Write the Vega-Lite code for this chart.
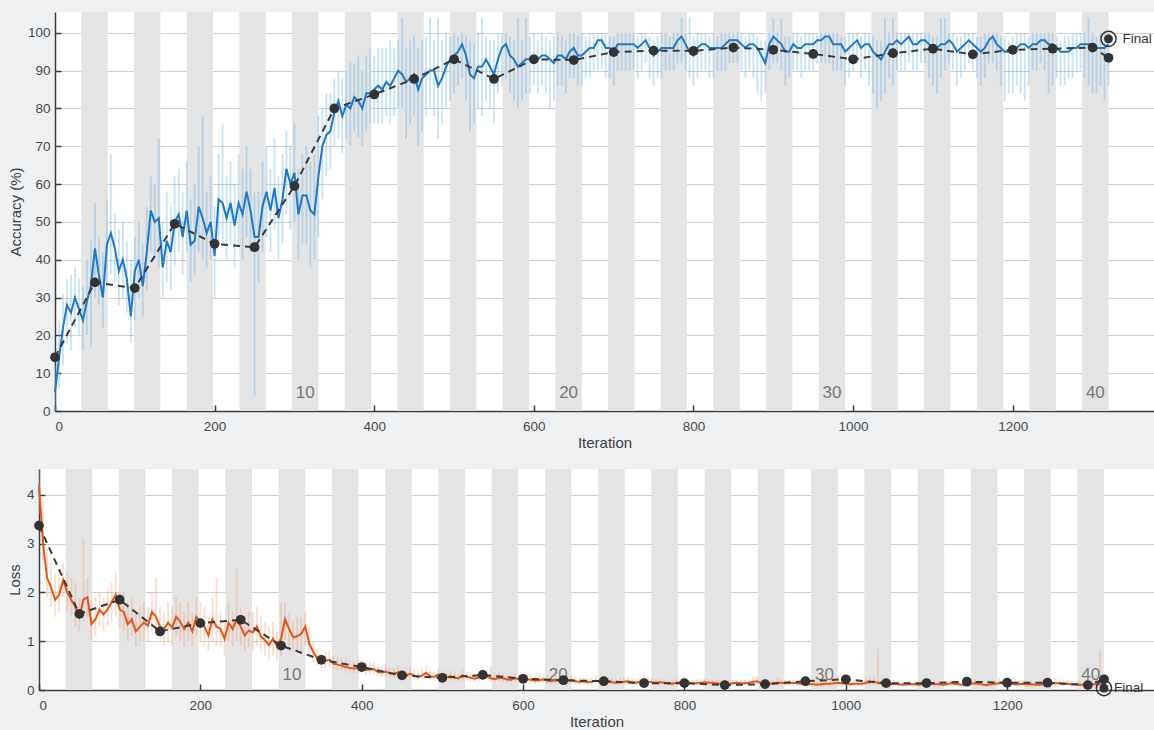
{
"$schema": "https://vega.github.io/schema/vega-lite/v6.json",
"background": "#eef0f2",
"padding": {"left": 7, "top": 12, "right": 0, "bottom": 0},
"config": {
 "view": {"stroke": null, "fill": "#ffffff"},
 "font": "Liberation Sans",
 "axis": {"domainColor": "#3c3c3c", "domainWidth": 1.5, "tickColor": "#3c3c3c", "tickWidth": 1.5, "tickSize": -6, "labelColor": "#4a4a4a", "labelFontSize": 13.5, "titleColor": "#404040", "titleFontSize": 15, "titleFontWeight": "normal", "gridColor": "#d0d0d0", "gridWidth": 1},
 "axisX": {"grid": false, "labelPadding": 14, "titlePadding": 3},
 "axisY": {"grid": true, "zindex": 1, "labelPadding": 11, "titlePadding": 4}
},
"datasets": {
 "bands": [{"s":33,"t":66},{"s":99,"t":132},{"s":165,"t":198},{"s":231,"t":264},{"s":297,"t":330},{"s":363,"t":396},{"s":429,"t":462},{"s":495,"t":528},{"s":561,"t":594},{"s":627,"t":660},{"s":693,"t":726},{"s":759,"t":792},{"s":825,"t":858},{"s":891,"t":924},{"s":957,"t":990},{"s":1023,"t":1056},{"s":1089,"t":1122},{"s":1155,"t":1188},{"s":1221,"t":1254},{"s":1287,"t":1320}],
 "ep": [{"m":313.5,"t":"10"},{"m":643.5,"t":"20"},{"m":973.5,"t":"30"},{"m":1303.5,"t":"40"}],
 "fin": [{"i":1320,"a":98.4,"l":0.04,"t":"Final"}],
 "val": [{"i":0,"a":14.2,"l":3.37},{"i":50,"a":34,"l":1.56},{"i":100,"a":32.5,"l":1.85},{"i":150,"a":49.5,"l":1.2},{"i":200,"a":44.2,"l":1.37},{"i":250,"a":43.3,"l":1.44},{"i":300,"a":59.5,"l":0.91},{"i":350,"a":80,"l":0.62},{"i":400,"a":83.7,"l":0.47},{"i":450,"a":87.8,"l":0.3},{"i":500,"a":93,"l":0.25},{"i":550,"a":87.8,"l":0.31},{"i":600,"a":93,"l":0.23},{"i":650,"a":92.8,"l":0.2},{"i":700,"a":94.9,"l":0.18},{"i":750,"a":95.3,"l":0.14},{"i":800,"a":95.2,"l":0.14},{"i":850,"a":96.1,"l":0.1},{"i":900,"a":95.5,"l":0.12},{"i":950,"a":94.4,"l":0.18},{"i":1000,"a":93,"l":0.22},{"i":1050,"a":94.6,"l":0.14},{"i":1100,"a":95.8,"l":0.14},{"i":1150,"a":94.3,"l":0.17},{"i":1200,"a":95.5,"l":0.15},{"i":1250,"a":95.8,"l":0.15},{"i":1300,"a":96.1,"l":0.1},{"i":1320,"a":93.4,"l":0.22}],
 "train": [
{"i":0,"a":5,"lo":0,"hi":12,"l":4.2,"llo":3.6,"lhi":4.5},
{"i":5,"a":14,"lo":6,"hi":24,"l":3.0,"llo":2.6,"lhi":3.9},
{"i":10,"a":22,"lo":12,"hi":31,"l":2.3,"llo":1.9,"lhi":2.9},
{"i":15,"a":28,"lo":18,"hi":35,"l":2.1,"llo":1.7,"lhi":2.6},
{"i":20,"a":26,"lo":16,"hi":36,"l":1.85,"llo":1.5,"lhi":2.4},
{"i":25,"a":30,"lo":22,"hi":38,"l":1.95,"llo":1.6,"lhi":2.3},
{"i":30,"a":27,"lo":20,"hi":35,"l":2.25,"llo":1.9,"lhi":2.6},
{"i":35,"a":24,"lo":16,"hi":33,"l":2.0,"llo":1.6,"lhi":2.4},
{"i":40,"a":29,"lo":20,"hi":40,"l":1.85,"llo":1.5,"lhi":2.3},
{"i":45,"a":33,"lo":17,"hi":45,"l":1.7,"llo":1.3,"lhi":2.2},
{"i":50,"a":43,"lo":30,"hi":55,"l":1.5,"llo":1.2,"lhi":1.9},
{"i":55,"a":36,"lo":28,"hi":46,"l":1.85,"llo":1.4,"lhi":3.1},
{"i":60,"a":30,"lo":22,"hi":42,"l":1.9,"llo":1.5,"lhi":2.3},
{"i":65,"a":44,"lo":34,"hi":56,"l":1.35,"llo":1.0,"lhi":1.8},
{"i":70,"a":47,"lo":36,"hi":68,"l":1.45,"llo":1.1,"lhi":1.9},
{"i":75,"a":43,"lo":34,"hi":52,"l":1.65,"llo":1.3,"lhi":2.0},
{"i":80,"a":37,"lo":28,"hi":48,"l":1.55,"llo":1.2,"lhi":1.9},
{"i":85,"a":40,"lo":30,"hi":50,"l":1.65,"llo":1.3,"lhi":2.1},
{"i":90,"a":35,"lo":26,"hi":45,"l":1.8,"llo":1.4,"lhi":2.2},
{"i":95,"a":25,"lo":18,"hi":40,"l":1.95,"llo":1.5,"lhi":2.4},
{"i":100,"a":37,"lo":24,"hi":46,"l":1.65,"llo":1.3,"lhi":2.0},
{"i":105,"a":40,"lo":30,"hi":50,"l":1.6,"llo":1.2,"lhi":2.0},
{"i":110,"a":33,"lo":25,"hi":44,"l":1.35,"llo":1.0,"lhi":1.8},
{"i":115,"a":42,"lo":32,"hi":54,"l":1.45,"llo":1.1,"lhi":1.9},
{"i":120,"a":53,"lo":42,"hi":62,"l":1.2,"llo":0.9,"lhi":1.6},
{"i":125,"a":50,"lo":40,"hi":60,"l":1.3,"llo":1.0,"lhi":1.7},
{"i":130,"a":51,"lo":38,"hi":72,"l":1.38,"llo":1.0,"lhi":1.8},
{"i":135,"a":38,"lo":30,"hi":50,"l":1.32,"llo":1.0,"lhi":1.7},
{"i":140,"a":45,"lo":34,"hi":58,"l":1.6,"llo":1.2,"lhi":2.0},
{"i":145,"a":42,"lo":32,"hi":54,"l":1.5,"llo":1.1,"lhi":2.3},
{"i":150,"a":50,"lo":38,"hi":62,"l":1.3,"llo":1.0,"lhi":1.7},
{"i":155,"a":52,"lo":42,"hi":64,"l":1.25,"llo":0.9,"lhi":1.6},
{"i":160,"a":46,"lo":36,"hi":58,"l":1.38,"llo":1.0,"lhi":1.8},
{"i":165,"a":53,"lo":42,"hi":66,"l":1.28,"llo":0.9,"lhi":1.7},
{"i":170,"a":44,"lo":34,"hi":56,"l":1.5,"llo":1.1,"lhi":1.9},
{"i":175,"a":45,"lo":36,"hi":60,"l":1.4,"llo":1.0,"lhi":1.8},
{"i":180,"a":54,"lo":42,"hi":70,"l":1.25,"llo":0.9,"lhi":1.6},
{"i":185,"a":51,"lo":40,"hi":78,"l":1.38,"llo":1.0,"lhi":1.8},
{"i":190,"a":47,"lo":38,"hi":58,"l":1.2,"llo":0.9,"lhi":1.6},
{"i":195,"a":50,"lo":40,"hi":62,"l":1.5,"llo":1.1,"lhi":1.9},
{"i":200,"a":41,"lo":30,"hi":54,"l":1.4,"llo":1.0,"lhi":1.8},
{"i":205,"a":56,"lo":44,"hi":68,"l":1.3,"llo":0.9,"lhi":1.7},
{"i":210,"a":55,"lo":44,"hi":76,"l":1.12,"llo":0.8,"lhi":1.5},
{"i":215,"a":51,"lo":40,"hi":62,"l":1.45,"llo":1.0,"lhi":1.9},
{"i":220,"a":55,"lo":44,"hi":66,"l":1.3,"llo":0.9,"lhi":2.3},
{"i":225,"a":49,"lo":38,"hi":60,"l":1.25,"llo":0.9,"lhi":1.6},
{"i":230,"a":55,"lo":44,"hi":68,"l":1.05,"llo":0.7,"lhi":1.4},
{"i":235,"a":52,"lo":40,"hi":64,"l":1.38,"llo":1.0,"lhi":1.8},
{"i":240,"a":58,"lo":46,"hi":70,"l":1.25,"llo":0.9,"lhi":1.6},
{"i":245,"a":53,"lo":42,"hi":64,"l":1.45,"llo":1.0,"lhi":2.5},
{"i":250,"a":46,"lo":4,"hi":58,"l":1.3,"llo":0.9,"lhi":1.7},
{"i":255,"a":46,"lo":34,"hi":58,"l":1.12,"llo":0.8,"lhi":1.5},
{"i":260,"a":54,"lo":42,"hi":66,"l":1.22,"llo":0.9,"lhi":1.6},
{"i":265,"a":58,"lo":46,"hi":70,"l":1.18,"llo":0.8,"lhi":1.6},
{"i":270,"a":53,"lo":42,"hi":64,"l":1.3,"llo":0.9,"lhi":1.7},
{"i":275,"a":59,"lo":48,"hi":72,"l":1.1,"llo":0.8,"lhi":1.5},
{"i":280,"a":51,"lo":40,"hi":62,"l":1.02,"llo":0.7,"lhi":1.4},
{"i":285,"a":56,"lo":44,"hi":68,"l":0.92,"llo":0.6,"lhi":1.3},
{"i":290,"a":64,"lo":52,"hi":74,"l":1.05,"llo":0.7,"lhi":1.4},
{"i":295,"a":60,"lo":48,"hi":70,"l":0.9,"llo":0.6,"lhi":1.2},
{"i":300,"a":63,"lo":50,"hi":76,"l":1.05,"llo":0.7,"lhi":1.8},
{"i":305,"a":52,"lo":40,"hi":64,"l":1.45,"llo":1.0,"lhi":1.8},
{"i":310,"a":57,"lo":44,"hi":68,"l":1.25,"llo":0.9,"lhi":1.6},
{"i":315,"a":57,"lo":44,"hi":70,"l":1.08,"llo":0.8,"lhi":1.4},
{"i":320,"a":53,"lo":38,"hi":66,"l":1.1,"llo":0.8,"lhi":1.5},
{"i":325,"a":52,"lo":40,"hi":68,"l":1.15,"llo":0.8,"lhi":1.5},
{"i":330,"a":62,"lo":46,"hi":78,"l":1.3,"llo":0.9,"lhi":1.6},
{"i":335,"a":70,"lo":56,"hi":80,"l":0.95,"llo":0.7,"lhi":1.3},
{"i":340,"a":73,"lo":62,"hi":84,"l":0.78,"llo":0.55,"lhi":1.0},
{"i":345,"a":74,"lo":64,"hi":84,"l":0.64,"llo":0.5,"lhi":0.85},
{"i":350,"a":79,"lo":70,"hi":88,"l":0.58,"llo":0.45,"lhi":0.75},
{"i":355,"a":82,"lo":72,"hi":90,"l":0.6,"llo":0.45,"lhi":0.8},
{"i":360,"a":78,"lo":68,"hi":88,"l":0.62,"llo":0.48,"lhi":0.8},
{"i":365,"a":81,"lo":72,"hi":90,"l":0.54,"llo":0.42,"lhi":0.7},
{"i":370,"a":80,"lo":70,"hi":92,"l":0.52,"llo":0.4,"lhi":0.68},
{"i":375,"a":83,"lo":74,"hi":92,"l":0.5,"llo":0.4,"lhi":0.65},
{"i":380,"a":82,"lo":72,"hi":94,"l":0.47,"llo":0.36,"lhi":0.62},
{"i":385,"a":80,"lo":70,"hi":90,"l":0.45,"llo":0.35,"lhi":0.6},
{"i":390,"a":84,"lo":74,"hi":94,"l":0.44,"llo":0.34,"lhi":0.58},
{"i":395,"a":84,"lo":76,"hi":96,"l":0.45,"llo":0.35,"lhi":0.62},
{"i":400,"a":85,"lo":76,"hi":94,"l":0.47,"llo":0.36,"lhi":0.6},
{"i":405,"a":86,"lo":76,"hi":96,"l":0.41,"llo":0.32,"lhi":0.55},
{"i":410,"a":85,"lo":76,"hi":96,"l":0.42,"llo":0.32,"lhi":0.56},
{"i":415,"a":87,"lo":78,"hi":96,"l":0.43,"llo":0.33,"lhi":0.58},
{"i":420,"a":86,"lo":76,"hi":98,"l":0.37,"llo":0.28,"lhi":0.5},
{"i":425,"a":88,"lo":78,"hi":96,"l":0.36,"llo":0.27,"lhi":0.48},
{"i":430,"a":90,"lo":80,"hi":98,"l":0.38,"llo":0.28,"lhi":0.55},
{"i":435,"a":89,"lo":80,"hi":104,"l":0.34,"llo":0.26,"lhi":0.46},
{"i":440,"a":87,"lo":72,"hi":96,"l":0.33,"llo":0.25,"lhi":0.45},
{"i":445,"a":88,"lo":76,"hi":98,"l":0.36,"llo":0.26,"lhi":0.5},
{"i":450,"a":89,"lo":78,"hi":99,"l":0.31,"llo":0.22,"lhi":0.42},
{"i":455,"a":85,"lo":70,"hi":96,"l":0.3,"llo":0.22,"lhi":0.4},
{"i":460,"a":88,"lo":74,"hi":98,"l":0.33,"llo":0.24,"lhi":0.48},
{"i":465,"a":89,"lo":78,"hi":99,"l":0.3,"llo":0.22,"lhi":0.42},
{"i":470,"a":90,"lo":80,"hi":104,"l":0.27,"llo":0.2,"lhi":0.38},
{"i":475,"a":90,"lo":78,"hi":98,"l":0.3,"llo":0.22,"lhi":0.45},
{"i":480,"a":86,"lo":72,"hi":104,"l":0.35,"llo":0.25,"lhi":0.5},
{"i":485,"a":88,"lo":76,"hi":98,"l":0.28,"llo":0.2,"lhi":0.4},
{"i":490,"a":91,"lo":80,"hi":100,"l":0.27,"llo":0.2,"lhi":0.38},
{"i":495,"a":93,"lo":82,"hi":99,"l":0.32,"llo":0.22,"lhi":0.46},
{"i":500,"a":94,"lo":84,"hi":100,"l":0.29,"llo":0.2,"lhi":0.4},
{"i":505,"a":95,"lo":86,"hi":99,"l":0.26,"llo":0.18,"lhi":0.36},
{"i":510,"a":97,"lo":88,"hi":100,"l":0.28,"llo":0.2,"lhi":0.4},
{"i":515,"a":94,"lo":82,"hi":99,"l":0.25,"llo":0.18,"lhi":0.36},
{"i":520,"a":89,"lo":74,"hi":98,"l":0.24,"llo":0.17,"lhi":0.34},
{"i":525,"a":88,"lo":76,"hi":97,"l":0.3,"llo":0.2,"lhi":0.44},
{"i":530,"a":91,"lo":80,"hi":100,"l":0.27,"llo":0.19,"lhi":0.38},
{"i":535,"a":91,"lo":78,"hi":104,"l":0.25,"llo":0.18,"lhi":0.36},
{"i":540,"a":93,"lo":82,"hi":99,"l":0.23,"llo":0.16,"lhi":0.34},
{"i":545,"a":91,"lo":80,"hi":98,"l":0.26,"llo":0.18,"lhi":0.38},
{"i":550,"a":89,"lo":76,"hi":98,"l":0.3,"llo":0.2,"lhi":0.42},
{"i":555,"a":93,"lo":84,"hi":100,"l":0.28,"llo":0.2,"lhi":0.4},
{"i":560,"a":96,"lo":86,"hi":100,"l":0.24,"llo":0.17,"lhi":0.5},
{"i":565,"a":97,"lo":88,"hi":100,"l":0.22,"llo":0.15,"lhi":0.32},
{"i":570,"a":94,"lo":84,"hi":99,"l":0.25,"llo":0.18,"lhi":0.36},
{"i":575,"a":93,"lo":82,"hi":98,"l":0.24,"llo":0.17,"lhi":0.34},
{"i":580,"a":91,"lo":80,"hi":104,"l":0.22,"llo":0.15,"lhi":0.32},
{"i":585,"a":92,"lo":82,"hi":98,"l":0.21,"llo":0.15,"lhi":0.3},
{"i":590,"a":93,"lo":84,"hi":104,"l":0.24,"llo":0.17,"lhi":0.34},
{"i":595,"a":93,"lo":84,"hi":99,"l":0.22,"llo":0.15,"lhi":0.32},
{"i":600,"a":94,"lo":86,"hi":100,"l":0.2,"llo":0.14,"lhi":0.3},
{"i":605,"a":93,"lo":84,"hi":98,"l":0.22,"llo":0.15,"lhi":0.32},
{"i":610,"a":94,"lo":86,"hi":100,"l":0.21,"llo":0.15,"lhi":0.3},
{"i":615,"a":94,"lo":84,"hi":99,"l":0.19,"llo":0.13,"lhi":0.28},
{"i":620,"a":93,"lo":80,"hi":98,"l":0.2,"llo":0.14,"lhi":0.3},
{"i":625,"a":92,"lo":82,"hi":99,"l":0.22,"llo":0.15,"lhi":0.32},
{"i":630,"a":94,"lo":86,"hi":100,"l":0.19,"llo":0.13,"lhi":0.28},
{"i":635,"a":94,"lo":86,"hi":99,"l":0.18,"llo":0.12,"lhi":0.26},
{"i":640,"a":93,"lo":84,"hi":98,"l":0.2,"llo":0.14,"lhi":0.45},
{"i":645,"a":95,"lo":88,"hi":100,"l":0.19,"llo":0.13,"lhi":0.28},
{"i":650,"a":96,"lo":88,"hi":100,"l":0.17,"llo":0.12,"lhi":0.25},
{"i":655,"a":94,"lo":86,"hi":99,"l":0.19,"llo":0.13,"lhi":0.28},
{"i":660,"a":94,"lo":86,"hi":100,"l":0.2,"llo":0.14,"lhi":0.3},
{"i":665,"a":95,"lo":88,"hi":99,"l":0.18,"llo":0.12,"lhi":0.26},
{"i":670,"a":96,"lo":88,"hi":100,"l":0.17,"llo":0.12,"lhi":0.25},
{"i":675,"a":96,"lo":90,"hi":100,"l":0.18,"llo":0.12,"lhi":0.26},
{"i":680,"a":98,"lo":90,"hi":100,"l":0.16,"llo":0.11,"lhi":0.24},
{"i":685,"a":98,"lo":90,"hi":100,"l":0.17,"llo":0.11,"lhi":0.25},
{"i":690,"a":96,"lo":88,"hi":100,"l":0.19,"llo":0.13,"lhi":0.28},
{"i":695,"a":96,"lo":88,"hi":99,"l":0.17,"llo":0.12,"lhi":0.25},
{"i":700,"a":95,"lo":86,"hi":99,"l":0.16,"llo":0.11,"lhi":0.24},
{"i":705,"a":97,"lo":90,"hi":100,"l":0.17,"llo":0.11,"lhi":0.26},
{"i":710,"a":97,"lo":90,"hi":100,"l":0.16,"llo":0.1,"lhi":0.24},
{"i":715,"a":97,"lo":90,"hi":100,"l":0.15,"llo":0.1,"lhi":0.22},
{"i":720,"a":97,"lo":90,"hi":100,"l":0.16,"llo":0.11,"lhi":0.24},
{"i":725,"a":97,"lo":90,"hi":100,"l":0.17,"llo":0.11,"lhi":0.26},
{"i":730,"a":96,"lo":88,"hi":99,"l":0.18,"llo":0.12,"lhi":0.28},
{"i":735,"a":97,"lo":90,"hi":100,"l":0.16,"llo":0.1,"lhi":0.24},
{"i":740,"a":98,"lo":92,"hi":100,"l":0.15,"llo":0.1,"lhi":0.22},
{"i":745,"a":96,"lo":88,"hi":99,"l":0.17,"llo":0.11,"lhi":0.26},
{"i":750,"a":94,"lo":86,"hi":98,"l":0.19,"llo":0.12,"lhi":0.3},
{"i":755,"a":95,"lo":88,"hi":99,"l":0.17,"llo":0.11,"lhi":0.25},
{"i":760,"a":96,"lo":88,"hi":100,"l":0.16,"llo":0.1,"lhi":0.24},
{"i":765,"a":96,"lo":90,"hi":100,"l":0.15,"llo":0.1,"lhi":0.22},
{"i":770,"a":96,"lo":90,"hi":99,"l":0.16,"llo":0.1,"lhi":0.24},
{"i":775,"a":96,"lo":90,"hi":100,"l":0.15,"llo":0.1,"lhi":0.22},
{"i":780,"a":98,"lo":92,"hi":100,"l":0.14,"llo":0.09,"lhi":0.2},
{"i":785,"a":99,"lo":92,"hi":104,"l":0.13,"llo":0.09,"lhi":0.2},
{"i":790,"a":97,"lo":90,"hi":100,"l":0.15,"llo":0.1,"lhi":0.22},
{"i":795,"a":95,"lo":88,"hi":104,"l":0.16,"llo":0.1,"lhi":0.24},
{"i":800,"a":94,"lo":86,"hi":99,"l":0.17,"llo":0.11,"lhi":0.26},
{"i":805,"a":96,"lo":88,"hi":100,"l":0.15,"llo":0.1,"lhi":0.22},
{"i":810,"a":97,"lo":90,"hi":100,"l":0.14,"llo":0.09,"lhi":0.2},
{"i":815,"a":97,"lo":90,"hi":100,"l":0.14,"llo":0.09,"lhi":0.21},
{"i":820,"a":96,"lo":88,"hi":99,"l":0.15,"llo":0.1,"lhi":0.22},
{"i":825,"a":96,"lo":88,"hi":100,"l":0.16,"llo":0.1,"lhi":0.24},
{"i":830,"a":96,"lo":90,"hi":99,"l":0.15,"llo":0.1,"lhi":0.22},
{"i":835,"a":96,"lo":90,"hi":100,"l":0.15,"llo":0.1,"lhi":0.22},
{"i":840,"a":97,"lo":90,"hi":100,"l":0.14,"llo":0.09,"lhi":0.2},
{"i":845,"a":98,"lo":92,"hi":100,"l":0.13,"llo":0.08,"lhi":0.2},
{"i":850,"a":98,"lo":92,"hi":100,"l":0.13,"llo":0.08,"lhi":0.19},
{"i":855,"a":98,"lo":92,"hi":100,"l":0.13,"llo":0.08,"lhi":0.2},
{"i":860,"a":97,"lo":90,"hi":100,"l":0.14,"llo":0.09,"lhi":0.21},
{"i":865,"a":96,"lo":88,"hi":99,"l":0.15,"llo":0.1,"lhi":0.22},
{"i":870,"a":97,"lo":90,"hi":100,"l":0.14,"llo":0.09,"lhi":0.2},
{"i":875,"a":97,"lo":88,"hi":100,"l":0.14,"llo":0.09,"lhi":0.21},
{"i":880,"a":96,"lo":84,"hi":99,"l":0.15,"llo":0.1,"lhi":0.24},
{"i":885,"a":94,"lo":82,"hi":98,"l":0.17,"llo":0.11,"lhi":0.28},
{"i":890,"a":92,"lo":84,"hi":98,"l":0.18,"llo":0.12,"lhi":0.3},
{"i":895,"a":97,"lo":90,"hi":100,"l":0.14,"llo":0.09,"lhi":0.2},
{"i":900,"a":99,"lo":92,"hi":104,"l":0.12,"llo":0.08,"lhi":0.18},
{"i":905,"a":98,"lo":92,"hi":100,"l":0.13,"llo":0.08,"lhi":0.19},
{"i":910,"a":97,"lo":90,"hi":104,"l":0.14,"llo":0.09,"lhi":0.2},
{"i":915,"a":95,"lo":86,"hi":99,"l":0.15,"llo":0.1,"lhi":0.24},
{"i":920,"a":95,"lo":88,"hi":99,"l":0.15,"llo":0.1,"lhi":0.22},
{"i":925,"a":97,"lo":90,"hi":100,"l":0.14,"llo":0.09,"lhi":0.2},
{"i":930,"a":96,"lo":90,"hi":100,"l":0.14,"llo":0.09,"lhi":0.21},
{"i":935,"a":96,"lo":88,"hi":99,"l":0.15,"llo":0.1,"lhi":0.22},
{"i":940,"a":97,"lo":90,"hi":100,"l":0.14,"llo":0.09,"lhi":0.2},
{"i":945,"a":97,"lo":90,"hi":100,"l":0.13,"llo":0.08,"lhi":0.2},
{"i":950,"a":97,"lo":90,"hi":100,"l":0.13,"llo":0.08,"lhi":0.2},
{"i":955,"a":98,"lo":92,"hi":100,"l":0.12,"llo":0.08,"lhi":0.18},
{"i":960,"a":98,"lo":92,"hi":100,"l":0.12,"llo":0.08,"lhi":0.18},
{"i":965,"a":99,"lo":92,"hi":100,"l":0.11,"llo":0.07,"lhi":0.17},
{"i":970,"a":99,"lo":92,"hi":100,"l":0.12,"llo":0.07,"lhi":0.18},
{"i":975,"a":97,"lo":90,"hi":100,"l":0.13,"llo":0.08,"lhi":0.2},
{"i":980,"a":97,"lo":90,"hi":100,"l":0.13,"llo":0.08,"lhi":0.2},
{"i":985,"a":97,"lo":90,"hi":99,"l":0.14,"llo":0.09,"lhi":0.24},
{"i":990,"a":95,"lo":86,"hi":99,"l":0.15,"llo":0.1,"lhi":0.3},
{"i":995,"a":96,"lo":88,"hi":100,"l":0.14,"llo":0.09,"lhi":0.22},
{"i":1000,"a":97,"lo":90,"hi":100,"l":0.13,"llo":0.08,"lhi":0.2},
{"i":1005,"a":98,"lo":92,"hi":100,"l":0.12,"llo":0.08,"lhi":0.18},
{"i":1010,"a":96,"lo":88,"hi":99,"l":0.13,"llo":0.08,"lhi":0.2},
{"i":1015,"a":97,"lo":90,"hi":100,"l":0.13,"llo":0.08,"lhi":0.2},
{"i":1020,"a":97,"lo":86,"hi":100,"l":0.13,"llo":0.08,"lhi":0.22},
{"i":1025,"a":95,"lo":84,"hi":99,"l":0.15,"llo":0.09,"lhi":0.26},
{"i":1030,"a":94,"lo":80,"hi":98,"l":0.16,"llo":0.1,"lhi":0.28},
{"i":1035,"a":93,"lo":82,"hi":98,"l":0.17,"llo":0.1,"lhi":0.3},
{"i":1040,"a":95,"lo":84,"hi":104,"l":0.15,"llo":0.09,"lhi":0.84},
{"i":1045,"a":97,"lo":88,"hi":100,"l":0.13,"llo":0.08,"lhi":0.22},
{"i":1050,"a":97,"lo":86,"hi":104,"l":0.13,"llo":0.08,"lhi":0.2},
{"i":1055,"a":98,"lo":90,"hi":100,"l":0.12,"llo":0.07,"lhi":0.18},
{"i":1060,"a":97,"lo":90,"hi":100,"l":0.13,"llo":0.08,"lhi":0.2},
{"i":1065,"a":98,"lo":90,"hi":100,"l":0.12,"llo":0.07,"lhi":0.18},
{"i":1070,"a":99,"lo":92,"hi":100,"l":0.11,"llo":0.07,"lhi":0.17},
{"i":1075,"a":97,"lo":90,"hi":100,"l":0.12,"llo":0.08,"lhi":0.18},
{"i":1080,"a":97,"lo":90,"hi":100,"l":0.12,"llo":0.08,"lhi":0.19},
{"i":1085,"a":98,"lo":92,"hi":100,"l":0.12,"llo":0.07,"lhi":0.18},
{"i":1090,"a":98,"lo":92,"hi":100,"l":0.11,"llo":0.07,"lhi":0.17},
{"i":1095,"a":97,"lo":88,"hi":100,"l":0.12,"llo":0.08,"lhi":0.2},
{"i":1100,"a":96,"lo":86,"hi":99,"l":0.13,"llo":0.08,"lhi":0.22},
{"i":1105,"a":96,"lo":84,"hi":99,"l":0.13,"llo":0.08,"lhi":0.24},
{"i":1110,"a":97,"lo":88,"hi":104,"l":0.12,"llo":0.08,"lhi":0.2},
{"i":1115,"a":97,"lo":90,"hi":104,"l":0.12,"llo":0.07,"lhi":0.19},
{"i":1120,"a":98,"lo":92,"hi":100,"l":0.11,"llo":0.07,"lhi":0.17},
{"i":1125,"a":97,"lo":90,"hi":100,"l":0.12,"llo":0.07,"lhi":0.18},
{"i":1130,"a":95,"lo":86,"hi":99,"l":0.14,"llo":0.09,"lhi":0.22},
{"i":1135,"a":96,"lo":88,"hi":99,"l":0.13,"llo":0.08,"lhi":0.2},
{"i":1140,"a":97,"lo":90,"hi":100,"l":0.12,"llo":0.07,"lhi":0.18},
{"i":1145,"a":98,"lo":92,"hi":100,"l":0.11,"llo":0.07,"lhi":0.17},
{"i":1150,"a":97,"lo":90,"hi":100,"l":0.12,"llo":0.07,"lhi":0.18},
{"i":1155,"a":96,"lo":88,"hi":99,"l":0.13,"llo":0.08,"lhi":0.2},
{"i":1160,"a":95,"lo":86,"hi":99,"l":0.14,"llo":0.09,"lhi":0.22},
{"i":1165,"a":96,"lo":88,"hi":100,"l":0.13,"llo":0.08,"lhi":0.2},
{"i":1170,"a":98,"lo":92,"hi":100,"l":0.11,"llo":0.07,"lhi":0.17},
{"i":1175,"a":99,"lo":92,"hi":100,"l":0.1,"llo":0.06,"lhi":0.16},
{"i":1180,"a":97,"lo":90,"hi":100,"l":0.12,"llo":0.07,"lhi":0.18},
{"i":1185,"a":96,"lo":86,"hi":99,"l":0.13,"llo":0.08,"lhi":0.2},
{"i":1190,"a":95,"lo":82,"hi":99,"l":0.14,"llo":0.09,"lhi":0.24},
{"i":1195,"a":95,"lo":84,"hi":98,"l":0.14,"llo":0.09,"lhi":0.22},
{"i":1200,"a":95,"lo":84,"hi":99,"l":0.14,"llo":0.09,"lhi":0.22},
{"i":1205,"a":96,"lo":86,"hi":100,"l":0.13,"llo":0.08,"lhi":0.2},
{"i":1210,"a":97,"lo":84,"hi":100,"l":0.12,"llo":0.08,"lhi":0.19},
{"i":1215,"a":97,"lo":82,"hi":100,"l":0.12,"llo":0.07,"lhi":0.2},
{"i":1220,"a":96,"lo":86,"hi":99,"l":0.13,"llo":0.08,"lhi":0.2},
{"i":1225,"a":97,"lo":90,"hi":100,"l":0.12,"llo":0.07,"lhi":0.18},
{"i":1230,"a":97,"lo":90,"hi":100,"l":0.12,"llo":0.07,"lhi":0.18},
{"i":1235,"a":98,"lo":92,"hi":100,"l":0.11,"llo":0.07,"lhi":0.17},
{"i":1240,"a":98,"lo":90,"hi":100,"l":0.11,"llo":0.07,"lhi":0.17},
{"i":1245,"a":97,"lo":84,"hi":100,"l":0.12,"llo":0.07,"lhi":0.2},
{"i":1250,"a":97,"lo":86,"hi":100,"l":0.12,"llo":0.07,"lhi":0.19},
{"i":1255,"a":96,"lo":88,"hi":99,"l":0.13,"llo":0.08,"lhi":0.2},
{"i":1260,"a":95,"lo":86,"hi":98,"l":0.14,"llo":0.09,"lhi":0.22},
{"i":1265,"a":95,"lo":86,"hi":99,"l":0.14,"llo":0.09,"lhi":0.22},
{"i":1270,"a":95,"lo":88,"hi":99,"l":0.13,"llo":0.08,"lhi":0.2},
{"i":1275,"a":96,"lo":88,"hi":100,"l":0.13,"llo":0.08,"lhi":0.2},
{"i":1280,"a":96,"lo":90,"hi":100,"l":0.12,"llo":0.07,"lhi":0.19},
{"i":1285,"a":97,"lo":90,"hi":100,"l":0.12,"llo":0.07,"lhi":0.18},
{"i":1290,"a":97,"lo":88,"hi":100,"l":0.11,"llo":0.07,"lhi":0.18},
{"i":1295,"a":97,"lo":86,"hi":104,"l":0.11,"llo":0.07,"lhi":0.18},
{"i":1300,"a":97,"lo":84,"hi":100,"l":0.11,"llo":0.06,"lhi":0.2},
{"i":1305,"a":96,"lo":84,"hi":99,"l":0.12,"llo":0.07,"lhi":0.22},
{"i":1310,"a":96,"lo":86,"hi":100,"l":0.12,"llo":0.07,"lhi":0.3},
{"i":1315,"a":96,"lo":82,"hi":100,"l":0.12,"llo":0.07,"lhi":0.8},
{"i":1320,"a":97,"lo":86,"hi":100,"l":0.11,"llo":0.06,"lhi":0.2}
 ]
},
"columns": 1,
"align": "none",
"spacing": 18,
"concat": [
 {
  "hconcat": [
   {"width": 16, "height": 10, "view": {"fill": null, "stroke": null}, "data": {"values": [{"k": 1}]}, "mark": {"type": "point", "opacity": 0}},
   {
    "width": 1099, "height": 399,
    "layer": [
     {"data": {"name": "bands"}, "mark": {"type": "rect", "color": "#e4e4e4"},
      "encoding": {
       "x": {"field": "s", "type": "quantitative", "scale": {"domain": [0, 1377], "nice": false}, "axis": {"title": "Iteration", "values": [0,200,400,600,800,1000,1200], "format": "d"}},
       "x2": {"field": "t"}}},
     {"data": {"name": "train"}, "mark": {"type": "rule", "color": "#6cb4ea", "opacity": 0.38, "strokeWidth": 1.8, "clip": true},
      "encoding": {"x": {"field": "i", "type": "quantitative"}, "y": {"field": "lo", "type": "quantitative", "scale": {"domain": [0, 105.5], "nice": false}, "axis": {"title": "Accuracy (%)", "values": [0,10,20,30,40,50,60,70,80,90,100], "tickCount": 11}}, "y2": {"field": "hi"}}},
     {"data": {"name": "train"}, "mark": {"type": "line", "color": "#1f78c8", "strokeWidth": 2},
      "encoding": {"x": {"field": "i", "type": "quantitative"}, "y": {"field": "a", "type": "quantitative", "axis": {"title": "Accuracy (%)", "values": [0,10,20,30,40,50,60,70,80,90,100], "tickCount": 11}}}},
     {"data": {"name": "ep"}, "mark": {"type": "text", "fontSize": 17, "color": "#7a7a7a", "baseline": "middle"},
      "encoding": {"x": {"field": "m", "type": "quantitative"}, "y": {"datum": 4.8, "type": "quantitative"}, "text": {"field": "t"}}},
     {"data": {"name": "val"}, "mark": {"type": "line", "color": "#3a3a3a", "strokeWidth": 2, "strokeDash": [7, 5]},
      "encoding": {"x": {"field": "i", "type": "quantitative"}, "y": {"field": "a", "type": "quantitative"}}},
     {"data": {"name": "val"}, "mark": {"type": "point", "filled": true, "color": "#333333", "size": 95, "opacity": 1},
      "encoding": {"x": {"field": "i", "type": "quantitative"}, "y": {"field": "a", "type": "quantitative"}}},
     {"data": {"name": "fin"}, "mark": {"type": "point", "filled": false, "color": "#333333", "size": 230, "strokeWidth": 1.5, "opacity": 1},
      "encoding": {"x": {"field": "i", "type": "quantitative"}, "y": {"field": "a", "type": "quantitative"}}},
     {"data": {"name": "fin"}, "mark": {"type": "point", "filled": true, "color": "#333333", "size": 80, "opacity": 1},
      "encoding": {"x": {"field": "i", "type": "quantitative"}, "y": {"field": "a", "type": "quantitative"}}},
     {"data": {"name": "fin"}, "mark": {"type": "text", "align": "left", "baseline": "middle", "dx": 14, "fontSize": 13.5, "color": "#333333"},
      "encoding": {"x": {"field": "i", "type": "quantitative"}, "y": {"field": "a", "type": "quantitative"}, "text": {"field": "t"}}}
    ]
   }
  ],
  "bounds": "flush",
  "spacing": 0
 },
 {
  "width": 1115, "height": 221,
  "layer": [
   {"data": {"name": "bands"}, "mark": {"type": "rect", "color": "#e4e4e4"},
    "encoding": {
     "x": {"field": "s", "type": "quantitative", "scale": {"domain": [0, 1382], "nice": false}, "axis": {"title": "Iteration", "values": [0,200,400,600,800,1000,1200], "format": "d"}},
     "x2": {"field": "t"}}},
   {"data": {"name": "train"}, "mark": {"type": "rule", "color": "#f39a70", "opacity": 0.35, "strokeWidth": 1.8, "clip": true},
    "encoding": {"x": {"field": "i", "type": "quantitative"}, "y": {"field": "llo", "type": "quantitative", "scale": {"domain": [0, 4.53], "nice": false}, "axis": {"title": "Loss", "values": [0,1,2,3,4], "tickCount": 5}}, "y2": {"field": "lhi"}}},
   {"data": {"name": "train"}, "mark": {"type": "line", "color": "#e2561c", "strokeWidth": 2},
    "encoding": {"x": {"field": "i", "type": "quantitative"}, "y": {"field": "l", "type": "quantitative", "axis": {"title": "Loss", "values": [0,1,2,3,4], "tickCount": 5}}}},
   {"data": {"name": "ep"}, "mark": {"type": "text", "fontSize": 17, "color": "#7a7a7a", "baseline": "middle"},
    "encoding": {"x": {"field": "m", "type": "quantitative"}, "y": {"datum": 0.31, "type": "quantitative"}, "text": {"field": "t"}}},
   {"data": {"name": "val"}, "mark": {"type": "line", "color": "#3a3a3a", "strokeWidth": 2, "strokeDash": [7, 5]},
    "encoding": {"x": {"field": "i", "type": "quantitative"}, "y": {"field": "l", "type": "quantitative"}}},
   {"data": {"name": "val"}, "mark": {"type": "point", "filled": true, "color": "#333333", "size": 95, "opacity": 1},
    "encoding": {"x": {"field": "i", "type": "quantitative"}, "y": {"field": "l", "type": "quantitative"}}},
   {"data": {"name": "fin"}, "mark": {"type": "point", "filled": false, "color": "#333333", "size": 230, "strokeWidth": 1.5, "opacity": 1},
    "encoding": {"x": {"field": "i", "type": "quantitative"}, "y": {"field": "l", "type": "quantitative"}}},
   {"data": {"name": "fin"}, "mark": {"type": "point", "filled": true, "color": "#333333", "size": 80, "opacity": 1},
    "encoding": {"x": {"field": "i", "type": "quantitative"}, "y": {"field": "l", "type": "quantitative"}}},
   {"data": {"name": "fin"}, "mark": {"type": "text", "align": "left", "baseline": "middle", "dx": 10, "fontSize": 13.5, "color": "#333333"},
    "encoding": {"x": {"field": "i", "type": "quantitative"}, "y": {"field": "l", "type": "quantitative"}, "text": {"field": "t"}}}
  ]
 }
]
}
